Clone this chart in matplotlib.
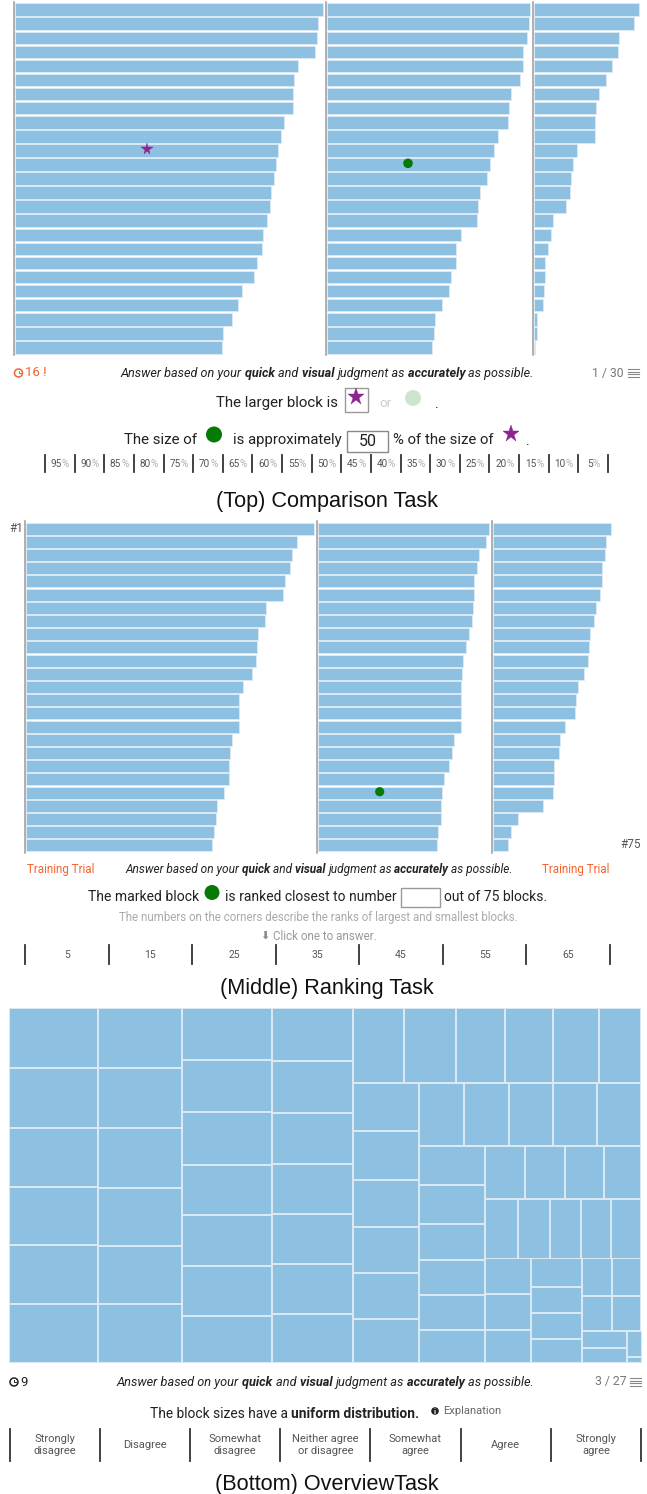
# -*- coding: utf-8 -*-
import matplotlib
matplotlib.use('Agg')
import matplotlib.pyplot as plt
from matplotlib.patches import Rectangle, Circle

plt.rcParams['font.family'] = ['Roboto', 'DejaVu Sans']

BLUE = '#8dc0e1'
EDGE = '#dbe9f4'
PURPLE = '#8e2490'
GREEN = '#067a06'
ORANGE = '#f4622e'

# bar lengths of the top task
top_a = [308, 303, 302.3, 300.7, 283.7, 279, 278.3, 278.3, 269.7, 266.3, 263.3, 261, 259.3,
         256.3, 255.7, 252.3, 248.7, 247, 242.3, 239, 227.3, 223.7, 217.3, 208.7, 207.7]
top_b = [202.7, 202, 200.3, 196.3, 196.3, 192.7, 184, 182.3, 181.3, 171.3, 167.3, 162.7, 159.7,
         152.7, 151, 150.3, 133.7, 129.3, 128.7, 123.7, 122, 115, 108, 106.7, 105]
top_c = [105, 100.3, 85.3, 84, 78.3, 72, 65, 62, 61.3, 60.7, 42.7, 38.7, 37,
         35.7, 32.3, 19, 16.7, 13.7, 11.3, 10.7, 9.7, 9, 3.3, 2.7, 1]

# bar lengths of the middle task
mid_a = [288.3, 271.3, 266.3, 264.3, 259.7, 257.7, 240.7, 239.7, 232, 231.3, 230, 226.3, 217.3,
         213.7, 213.7, 213, 206.3, 204.3, 203.3, 203.3, 198.3, 191.7, 190, 188.7, 186.7]
mid_b = [171.3, 168.3, 161.7, 159.7, 156, 156, 155.3, 154, 151, 148.7, 145.7, 144.3, 143.7,
         143.7, 143.7, 143.7, 136.3, 134.7, 131.7, 126, 124.3, 123, 123, 120, 119.3]
mid_c = [118.3, 113.3, 112.3, 109, 109, 107.3, 103, 100.7, 97.3, 95.7, 94.7, 90.7, 85.3,
         83.3, 82.3, 71.7, 67, 65.7, 61.3, 61.3, 59.7, 50, 24.7, 18, 15]

# treemap: sizes of the cells in each strip
tree_col1 = [60.7, 60, 58.3, 58.7, 58.7, 58.7]
tree_col2 = [60.3, 60.3, 59.7, 58, 58, 58.7]
tree_col3 = [52.3, 52.3, 52.3, 50.3, 50.7, 50, 47]
tree_col4 = [53.3, 52.3, 50.7, 50.3, 50, 50, 48.3]
tree_row1 = [51.7, 51.3, 49.3, 48.3, 45.7, 42]
tree_col5 = [48.7, 48.3, 47.7, 46, 46, 43.7]
tree_row2 = [44.7, 45, 44.3, 43.7, 44.3]
tree_col6 = [39, 38.7, 36, 35.3, 35, 32.7]
tree_row3 = [40, 39.7, 39, 37.7]
tree_row4 = [32.7, 32.7, 31, 30, 30]
tree_col7 = [36, 35.7, 32.7]
tree_col8 = [29, 26, 25.3, 24]
tree_row5 = [30, 29.3]
tree_row6 = [30, 29.3]
tree_col9 = [17, 14.3]
tree_col10 = [25.3, 6]

pct_labels = ['95', '90', '85', '80', '75', '70', '65', '60', '55', '50',
              '45', '40', '35', '30', '25', '20', '15', '10', '5']
rank_labels = ['5', '15', '25', '35', '45', '55', '65']
agree_labels = ['Strongly\ndisagree', 'Disagree', 'Somewhat\ndisagree', 'Neither agree\nor disagree',
                'Somewhat\nagree', 'Agree', 'Strongly\nagree']

fig = plt.figure(figsize=(6.47, 14.94), dpi=100)
ax = fig.add_axes([0, 0, 1, 1])
ax.set_xlim(0, 647)
ax.set_ylim(1494, 0)
ax.axis('off')
rend = fig.canvas.get_renderer()


def bars(vals, left, top, pitch, height):
    ys = [top + i * pitch for i in range(len(vals))]
    ax.barh(ys, vals, height=height, left=left, color=BLUE, edgecolor=EDGE, linewidth=0.7, align='edge')
    ax.plot([left - 1, left - 1], [top - 1.5, ys[-1] + height + 1.5], color='#9a9a9a', lw=1.1)


def col(x0, x1, y0, sizes):
    # vertical strip of treemap cells
    y = y0
    for s in sizes:
        ax.bar(x0, s - 1, width=x1 - x0, bottom=y, align='edge', color=BLUE, edgecolor=EDGE, linewidth=0.7)
        y += s


def row(x0, y0, y1, sizes):
    # horizontal strip of treemap cells
    x = x0
    for s in sizes:
        ax.bar(x, y1 - y0, width=s - 1, bottom=y0, align='edge', color=BLUE, edgecolor=EDGE, linewidth=0.7)
        x += s


def runs(x, y, parts, size=9, color='#222222', style='normal'):
    # text with bold words, one piece after the other, y is the baseline
    for word, weight in parts:
        t = ax.text(x, y, word, fontsize=size, color=color, fontweight=weight, style=style,
                    ha='left', va='baseline')
        x = t.get_window_extent(rend).x1
    return x


def answer_line(x, y, size):
    runs(x, y, [('Answer based on your ', 'normal'), ('quick ', 'bold'), ('and ', 'normal'),
                ('visual ', 'bold'), ('judgment as ', 'normal'), ('accurately ', 'bold'),
                ('as possible.', 'normal')], size=size, style='italic')


def clock(x, y, color):
    ax.add_patch(Circle((x, y), 4, fill=False, ec=color, lw=1.1))
    ax.plot([x, x, x + 2], [y - 2.4, y, y], color=color, lw=0.7)


def menu(x, y):
    for dy in (-3.6, -1.2, 1.2, 3.6):
        ax.plot([x, x + 11], [y + dy, y + dy], color='#888888', lw=0.8)


def ticks(xs, y0, y1, lw=1.3):
    for x in xs:
        ax.plot([x, x], [y0, y1], color='#333333', lw=lw)


def star(x, y, ms):
    ax.plot(x, y, marker='*', ms=ms, color=PURPLE, mec=PURPLE, mew=0.3)


def dot(x, y, r, color=GREEN):
    ax.add_patch(Circle((x, y), r, color=color, lw=0))


# top task
bars(top_a, 14.7, 3.4, 14.07, 12.6)
bars(top_b, 327, 3.4, 14.07, 12.6)
bars(top_c, 534, 3.4, 14.07, 12.6)
star(146.5, 149, 8.5)
dot(408, 163.3, 4.8)

clock(18.5, 373, ORANGE)
ax.text(25, 373, '16 !', fontsize=9.5, color=ORANGE, va='center')
answer_line(121, 377, 9.1)
ax.text(592, 373, '1 / 30', fontsize=8.8, color='#777777', va='center')
menu(628, 373)

ax.text(216, 402.5, 'The larger block is', fontsize=10.8, color='#222222', va='center')
ax.add_patch(Rectangle((344.5, 388), 23, 24, fc='white', ec='#999999', lw=1))
star(356, 396.5, 12.5)
ax.text(379, 403.5, 'or', fontsize=9.5, color='#cccccc', va='center')
dot(413, 398, 8, '#cde4cd')
ax.text(435, 404, '.', fontsize=10, color='#222222', va='center')

ax.text(124, 440, 'The size of', fontsize=10.8, color='#222222', va='center')
dot(214, 434.5, 8)
ax.text(233, 440, 'is approximately', fontsize=10.7, color='#222222', va='center')
ax.add_patch(Rectangle((347, 431), 41, 20.5, fc='white', ec='#888888', lw=1))
ax.text(367.5, 441.5, '50', fontsize=11.5, color='#222222', va='center', ha='center')
ax.text(393, 440, '% of the size of', fontsize=10.7, color='#222222', va='center')
star(511, 434, 12.5)
ax.text(526, 441, '.', fontsize=10, color='#222222', va='center')

pct_x = [45 + i * 563 / 19 for i in range(20)]
ticks(pct_x, 455, 472)
for i, lab in enumerate(pct_labels):
    xm = (pct_x[i] + pct_x[i + 1]) / 2
    t = ax.text(xm - 3.5, 464, lab, fontsize=7.2, color='#555555', va='center', ha='center')
    ax.text(t.get_window_extent(rend).x1, 464, '%', fontsize=7.2, color='#aaaaaa', va='center')

ax.text(326.5, 501, '(Top) Comparison Task', fontsize=15.6, family='Liberation Sans',
        color='#111111', ha='center', va='center')

# middle task
bars(mid_a, 25.5, 522.5, 13.2, 12)
bars(mid_b, 317.6, 522.5, 13.2, 12)
bars(mid_c, 492.8, 522.5, 13.2, 12)
dot(379.7, 791.7, 4.6)
ax.text(23, 528, '#1', fontsize=8.5, color='#555555', va='center', ha='right')
ax.text(641, 844.5, '#75', fontsize=8.5, color='#555555', va='center', ha='right')

ax.text(27, 869, 'Training Trial', fontsize=8.4, color=ORANGE, va='center')
answer_line(125, 873, 8.55)
ax.text(542, 869, 'Training Trial', fontsize=8.4, color=ORANGE, va='center')

ax.text(88, 897, 'The marked block', fontsize=10.1, color='#222222', va='center')
dot(212, 892.5, 7.5)
ax.text(225, 897, 'is ranked closest to number', fontsize=10, color='#222222', va='center')
ax.add_patch(Rectangle((401, 888), 39, 19, fc='white', ec='#999999', lw=1))
ax.text(444, 897, 'out of 75 blocks.', fontsize=10, color='#222222', va='center')
ax.text(318, 918, 'The numbers on the corners describe the ranks of largest and smallest blocks.',
        fontsize=8.3, color='#aaaaaa', ha='center', va='center')
ax.text(265, 936, '\u2b07', fontsize=8, color='#888888', ha='center', va='center', family='DejaVu Sans')
ax.text(273, 936, 'Click one to answer.', fontsize=8.4, color='#999999', va='center')

rank_x = [25 + i * 585 / 7 for i in range(8)]
ticks(rank_x, 945, 964)
for i, lab in enumerate(rank_labels):
    ax.text((rank_x[i] + rank_x[i + 1]) / 2, 955, lab, fontsize=7.5, color='#555555', ha='center', va='center')

ax.text(326.5, 988.5, '(Middle) Ranking Task', fontsize=15.6, family='Liberation Sans',
        color='#111111', ha='center', va='center')

# bottom task, treemap strips
col(9.3, 97, 1007.7, tree_col1)
col(98, 181, 1007.7, tree_col2)
col(182, 271, 1007.7, tree_col3)
col(272, 351.7, 1007.7, tree_col4)
row(352.7, 1007.7, 1082, tree_row1)
col(352.7, 418.3, 1082.7, tree_col5)
row(419, 1082.7, 1145.3, tree_row2)
col(419, 483.7, 1146, tree_col6)
row(485, 1146, 1198.3, tree_row3)
row(485, 1199, 1257.7, tree_row4)
col(485, 529.7, 1258.3, tree_col7)
col(530.7, 581.3, 1258.3, tree_col8)
row(582, 1258.3, 1295, tree_row5)
row(582, 1295.7, 1330.3, tree_row6)
col(582, 626, 1331.3, tree_col9)
col(627, 641, 1331.3, tree_col10)

clock(14, 1382, '#222222')
ax.text(20.5, 1382, '9', fontsize=9.5, color='#222222', va='center')
answer_line(117, 1386, 9.2)
ax.text(595, 1382, '3 / 27', fontsize=8.8, color='#777777', va='center')
menu(630, 1382)

runs(150, 1417.5, [('The block sizes have a ', 'normal'), ('uniform distribution.', 'bold')], size=9.9)
dot(435, 1411, 3.8, '#222222')
ax.text(435, 1411, 'i', fontsize=5.5, color='white', fontweight='bold', ha='center', va='center')
ax.text(443, 1411, 'Explanation', fontsize=8.1, color='#666666', va='center')

agree_x = [9.5 + i * 631.5 / 7 for i in range(8)]
ticks(agree_x, 1429, 1461)
for i, lab in enumerate(agree_labels):
    ax.text((agree_x[i] + agree_x[i + 1]) / 2, 1444.5, lab, fontsize=8, color='#555555',
            ha='center', va='center', linespacing=1.25)

ax.text(326.5, 1484.5, '(Bottom) OverviewTask', fontsize=15.6, family='Liberation Sans',
        color='#111111', ha='center', va='center')

fig.savefig('out.png', dpi=100)
